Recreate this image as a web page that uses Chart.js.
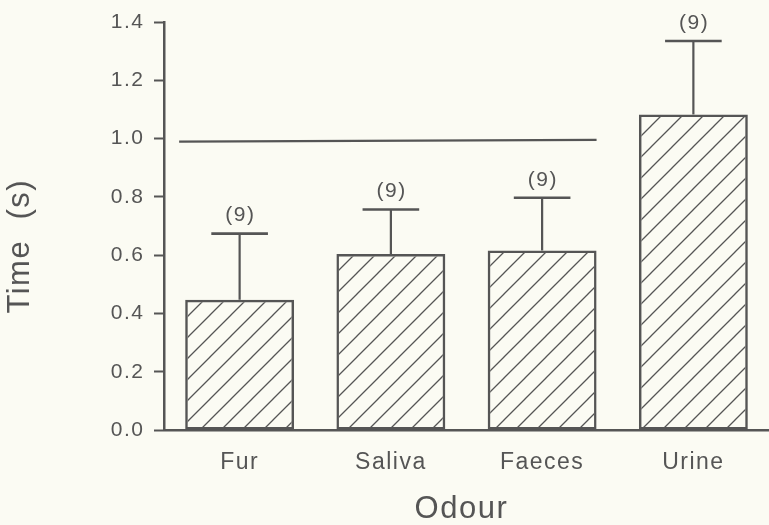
<!DOCTYPE html>
<html>
<head>
<meta charset="utf-8">
<script src="https://cdn.jsdelivr.net/npm/chart.js@4"></script>
<style>
  html, body { margin: 0; padding: 0; background: #fbfbf3; }
  #wrap { width: 769px; height: 525px; }
</style>
</head>
<body>
<div id="wrap"><canvas id="c" width="769" height="525"></canvas></div>
<script>
// ---- data ----
const categories = ['Fur', 'Saliva', 'Faeces', 'Urine'];
const meanTime   = [0.447, 0.604, 0.616, 1.083];
const errorTop   = [0.674, 0.757, 0.797, 1.335];
const sampleN    = [9, 9, 9, 9];
const controlX   = [-0.4, 2.36];
const controlY   = [0.99, 0.996];
const yTickMin = 0, yTickMax = 1.4, yTickStep = 0.2;

const INK = '#555555';
const FONT = "'Liberation Sans', Arial, sans-serif";

function hatch() {
  const s = 21;
  const c = document.createElement('canvas');
  c.width = s; c.height = s;
  const g = c.getContext('2d');
  g.strokeStyle = INK;
  g.lineWidth = 1.3;
  g.beginPath();
  g.moveTo(-2, s + 2); g.lineTo(s + 2, -2);
  g.moveTo(-2, 2); g.lineTo(2, -2);
  g.moveTo(s - 2, s + 2); g.lineTo(s + 2, s - 2);
  g.stroke();
  return g.createPattern(c, 'repeat');
}

const spacingPlugin = {
  id: 'spacing',
  beforeUpdate(chart) { chart.ctx.letterSpacing = '1.5px'; },
  beforeDraw(chart) { chart.ctx.letterSpacing = '1.5px'; }
};

const errorPlugin = {
  id: 'errors',
  afterDatasetsDraw(chart) {
    const ctx = chart.ctx;
    const meta = chart.getDatasetMeta(0);
    const ys = chart.scales.y;
    ctx.save();
    ctx.strokeStyle = INK;
    ctx.fillStyle = INK;
    meta.data.forEach((bar, i) => {
      const x = bar.x;
      const yt = ys.getPixelForValue(errorTop[i]);
      const half = bar.width * 0.26;
      ctx.lineWidth = 2.2;
      ctx.beginPath();
      ctx.moveTo(x, bar.y);
      ctx.lineTo(x, yt);
      ctx.stroke();
      ctx.lineWidth = 2.6;
      ctx.beginPath();
      ctx.moveTo(x - half, yt);
      ctx.lineTo(x + half, yt);
      ctx.stroke();
      ctx.font = '21px ' + FONT;
      ctx.textAlign = 'center';
      ctx.textBaseline = 'middle';
      ctx.fillText('(' + sampleN[i] + ')', x + 0.75, yt - 18);
    });
    ctx.restore();
  }
};

new Chart(document.getElementById('c'), {
  type: 'bar',
  data: {
    labels: categories,
    datasets: [
      {
        type: 'bar',
        data: meanTime,
        backgroundColor: hatch(),
        borderColor: INK,
        borderWidth: 2.5,
        borderSkipped: false,
        grouped: false,
        barPercentage: 0.72,
        categoryPercentage: 1.0,
        xAxisID: 'x',
        yAxisID: 'y'
      },
      {
        type: 'line',
        data: controlX.map((x, i) => ({ x: x, y: controlY[i] })),
        borderColor: INK,
        borderWidth: 2.2,
        pointRadius: 0,
        fill: false,
        xAxisID: 'x2',
        yAxisID: 'y'
      }
    ]
  },
  options: {
    responsive: false,
    animation: false,
    devicePixelRatio: 1,
    layout: { padding: { top: 18, right: 0, left: 0, bottom: 0 } },
    plugins: { legend: { display: false }, tooltip: { enabled: false } },
    scales: {
      x: {
        type: 'category',
        offset: true,
        grid: { display: false, drawTicks: false },
        border: { display: true, color: INK, width: 2.5 },
        ticks: { color: INK, font: { family: FONT, size: 23 }, padding: 19, maxRotation: 0 },
        title: { display: true, text: 'Odour ', color: INK, font: { family: FONT, size: 31, lineHeight: 1 }, padding: { top: 0, bottom: 0 } },
        afterFit(s) { s.height = 95; }
      },
      x2: {
        type: 'linear',
        display: false,
        min: -0.5,
        max: 3.5,
        offset: false
      },
      y: {
        type: 'linear',
        min: yTickMin,
        max: yTickMax,
        grid: { drawOnChartArea: false, drawTicks: true, tickLength: 10, tickWidth: 2, tickColor: INK },
        border: { display: true, color: INK, width: 2.5 },
        ticks: {
          stepSize: yTickStep,
          color: INK,
          padding: 9.5,
          font: { family: FONT, size: 21 },
          callback: v => Number(v).toFixed(1)
        },
        title: { display: true, text: 'Time  (s)    ', color: INK, font: { family: FONT, size: 31, lineHeight: 1 }, padding: { top: 5, bottom: 0 } },
        afterFit(s) { s.width = 164; }
      }
    }
  },
  plugins: [spacingPlugin, errorPlugin]
});
</script>
</body>
</html>
